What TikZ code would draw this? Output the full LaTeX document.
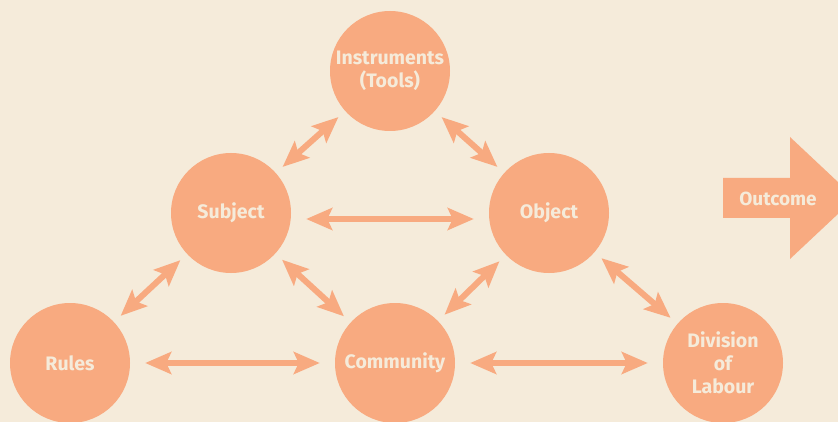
\documentclass[tikz,border=0pt]{standalone}
\usepackage{fontspec}
\setmainfont{Fira Sans}
\usetikzlibrary{arrows.meta}
\definecolor{bg}{HTML}{F5EBDA}
\definecolor{peach}{HTML}{F8AA80}
\definecolor{cream}{HTML}{F5EBDA}
\tikzset{
  bub/.style={circle, fill=peach, minimum size=120pt, inner sep=0pt, text=cream,
    font=\bfseries\fontsize{19.5}{23}\selectfont, align=center},
  dbl/.style={draw=peach, line width=6pt,
    {Stealth[length=26pt,width=22pt,inset=5pt]}-{Stealth[length=26pt,width=22pt,inset=5pt]}},
  diag/.style={dbl, shorten <=9pt, shorten >=9pt},
  horiz/.style={dbl, shorten <=15pt, shorten >=15pt}
}
\begin{document}
\begin{tikzpicture}[x=1pt,y=-1pt]
\fill[bg] (0,0) rectangle (838,422);
\useasboundingbox (0,0) rectangle (838,422);
\clip (0,0) rectangle (838,422);
\node[bub] (ins) at (390,71) {Instruments\\(Tools)};
\node[bub] (sub) at (231,213) {Subject};
\node[bub] (obj) at (549,213) {Object};
\node[bub] (rul) at (70,363) {Rules};
\node[bub] (com) at (395,363) {Community};
\node[bub] (div) at (723,363) {Division\\of\\Labour};
\draw[horiz] ([yshift=-6pt]sub.east) -- ([yshift=-6pt]obj.west);
\draw[horiz] (rul) -- (com);
\draw[horiz] (com) -- (div);
\draw[diag] (sub) -- (ins);
\draw[diag] (ins) -- (obj);
\draw[diag] (rul) -- (sub);
\draw[diag] (sub) -- (com);
\draw[diag] (com) -- (obj);
\draw[diag] (obj) -- (div);
\fill[peach] (723,178) -- (790,178) -- (790,137) -- (855,198) -- (790,259) -- (790,218) -- (723,218) -- cycle;
\node[text=cream, font=\bfseries\fontsize{19}{22}\selectfont] (out) at (778,199) {Outcome};
\end{tikzpicture}
\end{document}
